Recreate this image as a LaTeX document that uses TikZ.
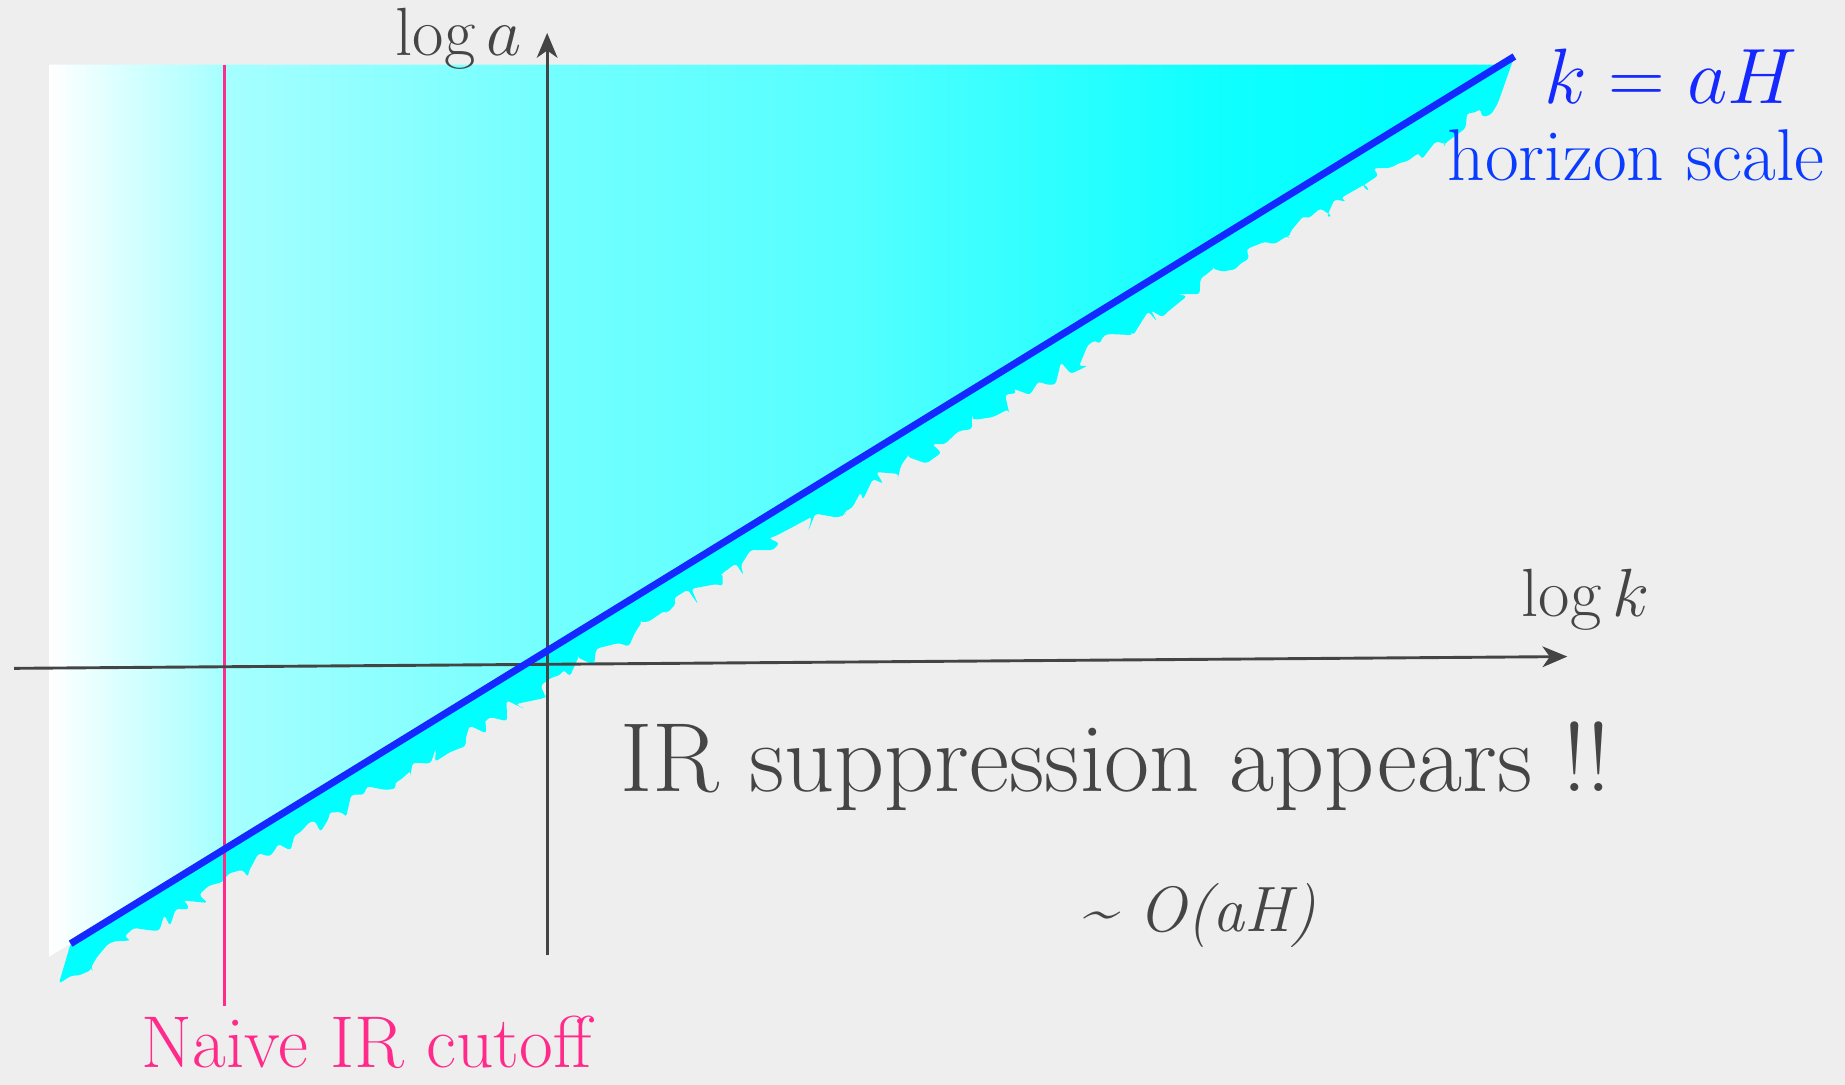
\RequirePackage{fix-cm}
\documentclass[tikz,border=0pt]{standalone}
\usepackage{fontspec}
\usetikzlibrary{arrows.meta,decorations.pathmorphing}
\definecolor{bg}{HTML}{EEEEEE}
\definecolor{axisgray}{HTML}{444444}
\definecolor{textgray}{HTML}{454545}
\definecolor{hblue}{RGB}{20,40,255}
\definecolor{hblue2}{RGB}{10,60,255}
\definecolor{irpink}{HTML}{FF2A8A}
\definecolor{aqua}{RGB}{0,255,255}
\definecolor{ca}{HTML}{A6FFFF}
\definecolor{cb}{HTML}{74FFFF}
\definecolor{cc}{HTML}{55FFFF}
\definecolor{cd}{HTML}{10FFFF}
\pgfdeclarehorizontalshading{cyanfade}{100bp}{color(0bp)=(white); color(25bp)=(white); color(31bp)=(ca); color(42bp)=(cb); color(52.5bp)=(cc); color(65bp)=(cd); color(72bp)=(aqua); color(100bp)=(aqua)}
\tikzset{
  axisline/.style={draw=axisgray, line width=1.4pt, -{Stealth[length=12pt,width=10pt,inset=3.5pt]}},
  biglabel/.style={inner sep=0pt, font=\fontsize{33}{40}\selectfont, text=textgray},
}
\begin{document}
\begin{tikzpicture}[x=0.02cm,y=-0.02cm]
\pgfmathsetseed{11}
\useasboundingbox (0,0) rectangle (1568,922);
\fill[bg] (0,0) rectangle (1568,922);
% shaded region
\coordinate (tl) at (42,55);
\coordinate (tr) at (1276,55);
\coordinate (bl) at (42,813);
\shade[shading=cyanfade] (tl) -- (tr) -- (bl) -- cycle;
% splatter band
\coordinate (ls) at (60,802);
\coordinate (le) at (1287,48);
\coordinate (sb) at (50,836);
\coordinate (st) at (1273,88);
\fill[aqua, rounded corners=1.5pt] (le) -- (ls) -- (sb) decorate[decoration={random steps,segment length=4pt,amplitude=5pt}]{ -- (st)} -- cycle;
% naive IR cutoff line
\coordinate (ct) at (191,55);
\coordinate (cbot) at (191,855);
\draw[irpink, line width=1.4pt] (ct) -- (cbot);
% axes
\coordinate (ya) at (465,812);
\coordinate (yb) at (465,28);
\coordinate (xa) at (12,568);
\coordinate (xb) at (1332,558);
\draw[axisline] (ya) -- (yb);
\draw[axisline] (xa) -- (xb);
% horizon line
\draw[hblue, line width=3.4pt] (ls) -- (le);
% labels
\node[biglabel, anchor=base east] (loga) at (444,47) {$\log a$};
\node[biglabel, anchor=base west] (logk) at (1293,524) {$\log k$};
\node[inner sep=0pt, anchor=base west, text=hblue, font=\fontsize{38}{45}\selectfont] (kah) at (1312,88) {$k = aH$};
\node[inner sep=0pt, anchor=base west, text=hblue2, font=\fontsize{35.5}{42}\selectfont] (hor) at (1230,153) {horizon scale};
\node[inner sep=0pt, anchor=base west, text=textgray, font=\fontsize{47.5}{56}\selectfont] (irs) at (527,673) {IR suppression appears !!};
\node[inner sep=0pt, anchor=base west, text=textgray, font=\fontsize{31}{38}\selectfont\itshape] (oah) at (918,792) {\textasciitilde\ O(aH)};
\node[inner sep=0pt, anchor=base west, text=irpink, font=\fontsize{35.5}{42}\selectfont] (naive) at (120,907) {Naive IR cutoff};
\end{tikzpicture}
\end{document}
